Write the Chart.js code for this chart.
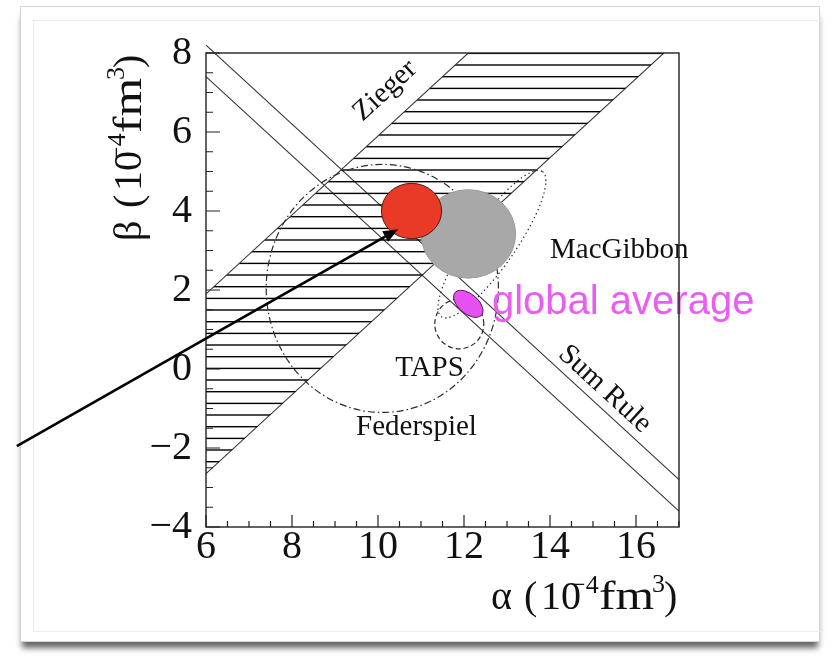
<!DOCTYPE html>
<html>
<head>
<meta charset="utf-8">
<script src="https://cdn.jsdelivr.net/npm/chart.js@4.4.0/dist/chart.umd.min.js"></script>
<style>
html, body { margin: 0; padding: 0; background: #fff; }
#wrap { position: relative; width: 834px; height: 666px; overflow: hidden; }
.card { position: absolute; left: 20px; top: 6px; width: 798px; height: 634px; background: #fff;
        border: 1px solid #d6d6d6; box-shadow: 0 8px 6px -2px rgba(0,0,0,0.6); }
.inner { position: absolute; left: 33px; top: 20px; width: 788px; height: 610px; border: 1px solid #ececec; }
canvas { position: absolute; left: 0; top: 0; }
</style>
</head>
<body>
<div id="wrap">
  <div class="card"></div>
  <div class="inner"></div>
  <canvas id="c" width="834" height="666"></canvas>
</div>
<script>
// axis ticks
const xTicks = [6, 8, 10, 12, 14, 16];
const yTicks = [-4, -2, 0, 2, 4, 6, 8];

// straight bands, end points [alpha, beta]
const ziegerLeft = [[6, 1.9], [17, 12.9]];
const ziegerRight = [[6, -2.65], [17, 8.35]];
const sumRuleUpper = [[6, 8.2], [17, -2.8]];
const sumRuleLower = [[6, 7.4], [17, -3.6]];

// open contours: centre alpha, centre beta, half axes, tilt (deg, data frame)
const contourNames = ['Federspiel', 'MacGibbon', 'TAPS'];
const contourAlpha = [10.10, 12.65, 11.89];
const contourBeta = [2.04, 3.16, 1.14];
const contourA = [2.70, 2.18, 0.57];
const contourB = [3.14, 0.55, 0.63];
const contourTilt = [0, 57.7, 0];

// filled results
const blobNames = ['fit', 'new', 'global average'];
const blobAlpha = [12.10, 10.78, 12.10];
const blobBeta = [3.42, 4.00, 1.65];
const blobA = [1.10, 0.70, 0.42];
const blobB = [1.12, 0.70, 0.24];
const blobTilt = [0, 0, -45];

// arrow, tail -> head
const arrowAlpha = [1.6, 10.47];
const arrowBeta = [-1.95, 3.54];

// text labels and where they sit [alpha, beta]
const labelText = ['MacGibbon', 'TAPS', 'Federspiel'];
const labelAlpha = [14.0, 10.40, 9.49];
const labelBeta = [2.82, -0.17, -1.66];

const pts = arr => arr.map(p => ({ x: p[0], y: p[1] }));
const serif = '"Liberation Serif", "Times New Roman", serif';

// horizontal hatching
function makeHatch() {
  const c = document.createElement('canvas');
  c.width = 8; c.height = 35;
  const g = c.getContext('2d');
  g.fillStyle = '#000';
  [6.0, 17.7, 29.3].forEach(y => g.fillRect(0, y, 8, 1.4));
  return g.createPattern(c, 'repeat');
}

const seriesStyle = { borderColor: '#333', borderWidth: 1.1, pointRadius: 0, fill: false };

function ellipsePath(ctx, chart, cx, cy, a, b, tilt) {
  const xs = chart.scales.x, ys = chart.scales.y;
  const px = xs.getPixelForValue(cx), py = ys.getPixelForValue(cy);
  const kx = xs.getPixelForValue(cx + 1) - px;
  const ky = ys.getPixelForValue(cy + 1) - py;
  ctx.save();
  ctx.translate(px, py);
  ctx.scale(kx, ky);
  ctx.rotate(tilt * Math.PI / 180);
  ctx.beginPath();
  ctx.ellipse(0, 0, a, b, 0, 0, 2 * Math.PI);
  ctx.restore();
}

// "sym (10^-4 fm^3)" laid out like the ROOT latex title
function supTitle(ctx, sym) {
  const parts = [
    [sym, 40, 0, 0, 1],
    ['(', 40, 0, 33, 1],
    ['10', 40, 0, 50, 1],
    ['\u22124', 26, -16, 80, 1],
    ['fm', 40, 0, 108, 1.24],
    ['3', 26, -17, 161, 1],
    [')', 40, 0, 173, 1]
  ];
  parts.forEach(p => {
    ctx.save();
    ctx.font = p[1] + 'px ' + serif;
    ctx.translate(p[3], p[2]);
    ctx.scale(p[4], 1);
    ctx.fillText(p[0], 0, 0);
    ctx.restore();
  });
}

const decor = {
  id: 'decor',
  afterDatasetsDraw(chart) {
    const ctx = chart.ctx, xs = chart.scales.x, ys = chart.scales.y, area = chart.chartArea;
    ctx.save();
    ctx.beginPath();
    ctx.rect(area.left, area.top, area.right - area.left, area.bottom - area.top);
    ctx.clip();

    // contours
    const dashes = [[7, 3, 1.5, 3], [1.4, 3], [5, 3]];
    contourNames.forEach((n, i) => {
      ellipsePath(ctx, chart, contourAlpha[i], contourBeta[i], contourA[i], contourB[i], contourTilt[i]);
      ctx.setLineDash(dashes[i]);
      ctx.lineWidth = 1.2;
      ctx.strokeStyle = '#2a2a2a';
      ctx.stroke();
    });
    ctx.setLineDash([]);

    // filled blobs
    const fills = ['#a8a8a8', '#e93a28', '#e650f2'];
    const edges = ['#9a9a9a', '#4a1a12', '#4a1a4a'];
    blobNames.forEach((n, i) => {
      ellipsePath(ctx, chart, blobAlpha[i], blobBeta[i], blobA[i], blobB[i], blobTilt[i]);
      ctx.fillStyle = fills[i];
      ctx.fill();
      ctx.lineWidth = 1;
      ctx.strokeStyle = edges[i];
      ctx.stroke();
    });
    ctx.restore();

    // band labels, rotated along the bands
    const ang = Math.atan2(ys.getPixelForValue(1) - ys.getPixelForValue(0), xs.getPixelForValue(1) - xs.getPixelForValue(0));
    ctx.save();
    ctx.fillStyle = '#111';
    ctx.font = '29px ' + serif;
    ctx.textAlign = 'center';
    ctx.translate(xs.getPixelForValue(10.16), ys.getPixelForValue(7.05));
    ctx.rotate(ang);
    ctx.fillText('Zieger', 0, 8);
    ctx.restore();

    ctx.save();
    ctx.fillStyle = '#111';
    ctx.font = '29px ' + serif;
    ctx.textAlign = 'center';
    ctx.translate(xs.getPixelForValue(15.28), ys.getPixelForValue(-0.5));
    ctx.rotate(-ang);
    ctx.fillText('Sum Rule', 0, 8);
    ctx.restore();

    ctx.save();
    ctx.fillStyle = '#111';
    ctx.font = '29px ' + serif;
    ctx.textAlign = 'left';
    labelText.forEach((t, i) => ctx.fillText(t, xs.getPixelForValue(labelAlpha[i]), ys.getPixelForValue(labelBeta[i])));
    ctx.fillStyle = '#ea5cf2';
    ctx.font = '40px "Liberation Sans", Arial, sans-serif';
    ctx.fillText('global average', xs.getPixelForValue(12.65), ys.getPixelForValue(1.39));
    ctx.restore();

    // frame and inward ticks
    ctx.save();
    ctx.strokeStyle = '#222';
    ctx.lineWidth = 1.4;
    ctx.strokeRect(area.left, area.top, area.right - area.left, area.bottom - area.top);
    ctx.lineWidth = 1.2;
    ctx.beginPath();
    for (let v = xs.min; v < xs.max + 1e-6; v += 0.5) {
      const p = xs.getPixelForValue(v);
      const len = xTicks.includes(v) ? 12 : 6;
      ctx.moveTo(p, area.bottom); ctx.lineTo(p, area.bottom - len);
    }
    for (let v = ys.min; v < ys.max + 1e-6; v += 0.5) {
      const p = ys.getPixelForValue(v);
      const len = yTicks.includes(v) ? 14 : 7;
      ctx.moveTo(area.left, p); ctx.lineTo(area.left + len, p);
    }
    ctx.stroke();
    ctx.restore();

    // axis titles
    ctx.save();
    ctx.fillStyle = '#111';
    ctx.translate(491, 609);
    supTitle(ctx, '\u03b1');
    ctx.restore();
    ctx.save();
    ctx.fillStyle = '#111';
    ctx.translate(141, 241);
    ctx.rotate(-Math.PI / 2);
    supTitle(ctx, '\u03b2');
    ctx.restore();

    // arrow
    const x0 = xs.getPixelForValue(arrowAlpha[0]), y0 = ys.getPixelForValue(arrowBeta[0]);
    const x1 = xs.getPixelForValue(arrowAlpha[1]), y1 = ys.getPixelForValue(arrowBeta[1]);
    const a = Math.atan2(y1 - y0, x1 - x0);
    ctx.save();
    ctx.strokeStyle = '#000';
    ctx.fillStyle = '#000';
    ctx.lineWidth = 2.6;
    ctx.beginPath();
    ctx.moveTo(x0, y0);
    ctx.lineTo(x1 - 10 * Math.cos(a), y1 - 10 * Math.sin(a));
    ctx.stroke();
    ctx.translate(x1, y1);
    ctx.rotate(a);
    ctx.beginPath();
    ctx.moveTo(0, 0);
    ctx.lineTo(-15, -6);
    ctx.lineTo(-15, 6);
    ctx.closePath();
    ctx.fill();
    ctx.restore();
  }
};

const tickLabel = v => (v < 0 ? '\u2212' + Math.abs(v) : String(v));

new Chart(document.getElementById('c'), {
  type: 'line',
  data: {
    datasets: [
      Object.assign({}, seriesStyle, { label: 'Zieger', data: pts(ziegerLeft), fill: '+1', backgroundColor: makeHatch() }),
      Object.assign({}, seriesStyle, { label: 'Zieger edge', data: pts(ziegerRight) }),
      Object.assign({}, seriesStyle, { label: 'Sum Rule', data: pts(sumRuleUpper), clip: false }),
      Object.assign({}, seriesStyle, { label: 'Sum Rule edge', data: pts(sumRuleLower), clip: false })
    ]
  },
  options: {
    responsive: false,
    animation: false,
    layout: { padding: { left: 0, top: 53, right: 155, bottom: 0 } },
    plugins: { legend: { display: false }, tooltip: { enabled: false } },
    scales: {
      x: {
        type: 'linear', min: 6, max: 17,
        afterFit: s => { s.height = 139; },
        afterBuildTicks: s => { s.ticks = xTicks.map(v => ({ value: v })); },
        grid: { display: false, drawTicks: false },
        border: { display: false },
        ticks: { font: { family: serif, size: 40, lineHeight: 1 }, color: '#111', padding: 0.5,
                 maxRotation: 0, autoSkip: false, callback: tickLabel }
      },
      y: {
        type: 'linear', min: -4, max: 8,
        afterFit: s => { s.width = 206; },
        afterBuildTicks: s => { s.ticks = yTicks.map(v => ({ value: v })); },
        grid: { display: false, drawTicks: false },
        border: { display: false },
        ticks: { font: { family: serif, size: 40, lineHeight: 1 }, color: '#111', padding: 14,
                 autoSkip: false, callback: tickLabel }
      }
    }
  },
  plugins: [decor]
});
</script>
</body>
</html>
